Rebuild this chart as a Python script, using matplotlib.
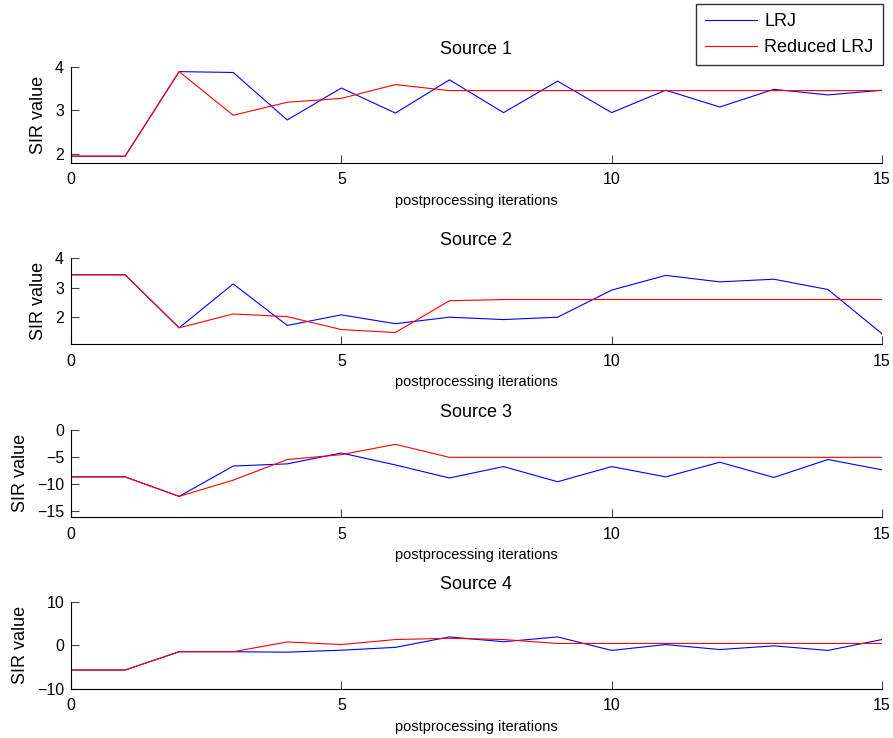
import matplotlib
matplotlib.use("Agg")
import matplotlib.pyplot as plt

plt.rcParams['font.family'] = ['Liberation Sans', 'DejaVu Sans']

iterations = list(range(16))

titles = ["Source 1", "Source 2", "Source 3", "Source 4"]

lrj_s1 = [1.94, 1.94, 3.90, 3.88, 2.78, 3.52, 2.94, 3.71, 2.95, 3.68, 2.95, 3.47, 3.08, 3.49, 3.36, 3.47]
red_s1 = [1.94, 1.94, 3.90, 2.89, 3.19, 3.28, 3.60, 3.46, 3.46, 3.46, 3.46, 3.46, 3.46, 3.46, 3.46, 3.46]

lrj_s2 = [3.44, 3.44, 1.64, 3.13, 1.72, 2.08, 1.78, 2.00, 1.92, 2.00, 2.92, 3.42, 3.20, 3.29, 2.94, 1.44]
red_s2 = [3.44, 3.44, 1.64, 2.11, 2.02, 1.58, 1.48, 2.56, 2.60, 2.60, 2.60, 2.60, 2.60, 2.60, 2.60, 2.60]

lrj_s3 = [-8.7, -8.7, -12.3, -6.7, -6.3, -4.3, -6.5, -8.9, -6.8, -9.6, -6.8, -8.7, -6.0, -8.8, -5.5, -7.4]
red_s3 = [-8.7, -8.7, -12.3, -9.3, -5.5, -4.6, -2.7, -5.1, -5.1, -5.1, -5.1, -5.1, -5.1, -5.1, -5.1, -5.1]

lrj_s4 = [-5.7, -5.7, -1.5, -1.5, -1.6, -1.15, -0.5, 1.9, 0.8, 1.9, -1.2, 0.15, -1.0, -0.15, -1.2, 1.3]
red_s4 = [-5.7, -5.7, -1.5, -1.5, 0.75, 0.15, 1.3, 1.6, 1.3, 0.4, 0.4, 0.4, 0.4, 0.4, 0.4, 0.4]

lrj_series = [lrj_s1, lrj_s2, lrj_s3, lrj_s4]
red_series = [red_s1, red_s2, red_s3, red_s4]

y_limits = [(1.79, 4.0), (1.08, 4.0), (-16.1, 0.0), (-10.0, 10.0)]
y_ticks = [[2, 3, 4], [2, 3, 4], [-15, -10, -5, 0], [-10, 0, 10]]
x_ticks = [0, 5, 10, 15]

W, H = 893, 738
fig = plt.figure(figsize=(W / 100, H / 100), dpi=100)

# axes boxes in pixels: (top, bottom)
boxes_px = [(67.3, 162.7), (258.3, 344.3), (429.7, 517.0), (601.7, 688.7)]
left_px, right_px = 71.0, 882.0

handles = None
for i, (top, bot) in enumerate(boxes_px):
    ax = fig.add_axes([left_px / W, 1 - bot / H, (right_px - left_px) / W, (bot - top) / H])
    l1, = ax.plot(iterations, lrj_series[i], color=(0, 0, 1), lw=0.8, label="LRJ")
    l2, = ax.plot(iterations, red_series[i], color=(1, 0, 0), lw=0.8, label="Reduced LRJ")
    handles = [l1, l2]
    ax.set_xlim(0, 15)
    ax.set_ylim(*y_limits[i])
    ax.set_xticks(x_ticks)
    ax.set_yticks(y_ticks[i])
    for side in ("top", "right"):
        ax.spines[side].set_visible(False)
    for side in ("left", "bottom"):
        ax.spines[side].set_linewidth(0.8)
        ax.spines[side].set_color("black")
    ax.tick_params(axis="both", direction="in", length=6, width=0.8, color="#444444",
                   labelsize=11.5)
    ax.tick_params(axis="x", pad=7)
    ax.tick_params(axis="y", pad=5)
    ax.set_title(titles[i], fontsize=13, pad=9.5)
    ax.set_xlabel("postprocessing iterations", fontsize=10.5, labelpad=4.5)
    ax.set_ylabel("SIR value", fontsize=13, labelpad=6)

leg = fig.legend(handles=handles, labels=["LRJ", "Reduced LRJ"],
                 loc="upper right", bbox_to_anchor=(882.7 / W, 1 - 4 / H),
                 bbox_transform=fig.transFigure, borderaxespad=0,
                 fontsize=13, frameon=True, fancybox=False, edgecolor="black",
                 handlelength=2.9, handletextpad=0.4, borderpad=0.5, labelspacing=0.5)
leg.get_frame().set_linewidth(1.0)

fig.savefig("out.png", dpi=100)
